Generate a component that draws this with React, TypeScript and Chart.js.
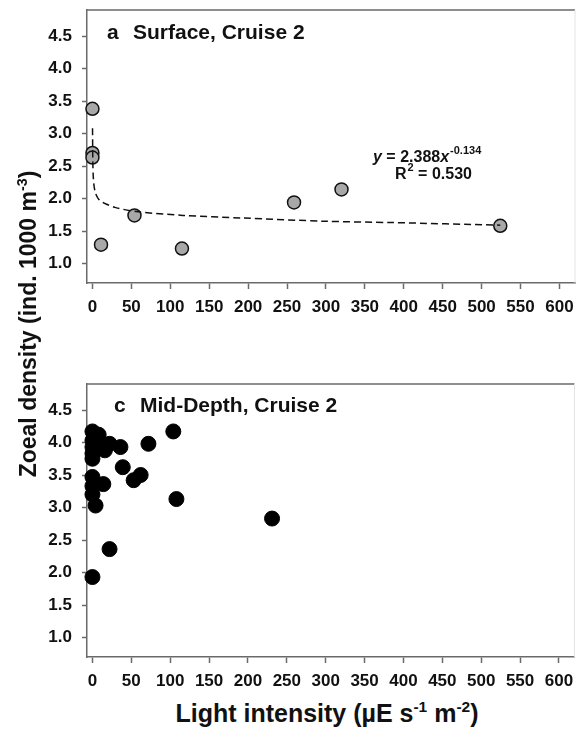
import React, { useEffect, useRef } from "react";
import { Chart, registerables } from "chart.js";

Chart.register(...registerables);

const FONT = '"Liberation Sans", Arial, Helvetica, sans-serif';

// Panel a: Surface, Cruise 2
const surfaceLight = [0, 0, 0, 11, 54, 115, 259, 320, 524];
const surfaceDensity = [3.38, 2.70, 2.63, 1.29, 1.74, 1.23, 1.94, 2.14, 1.58];

// fitted power curve as drawn
const fitLight = [0.1, 0.5, 1, 2, 4, 8, 15, 30, 56, 116, 192, 299, 384, 524];
const fitDensity = [3.08, 2.55, 2.35, 2.2, 2.08, 1.99, 1.93, 1.86, 1.8, 1.74, 1.7, 1.65, 1.63, 1.59];

// Panel c: Mid-Depth, Cruise 2
const midLight = [0, 0, 0, 0, 0, 8, 3, 16, 22, 36, 72, 104, 39, 53, 62, 0, 14, 0, 0, 4, 108, 22, 0, 231];
const midDensity = [4.17, 4.03, 3.93, 3.83, 3.75, 4.12, 4.0, 3.88, 3.98, 3.93, 3.98, 4.17, 3.62, 3.42, 3.5, 3.47, 3.36, 3.33, 3.2, 3.03, 3.13, 2.36, 1.93, 2.83];

const xTicks = [0, 50, 100, 150, 200, 250, 300, 350, 400, 450, 500, 550, 600];
const yTicks = [1.0, 1.5, 2.0, 2.5, 3.0, 3.5, 4.0, 4.5];

const equationText = { y: "y", eq: " = 2.388", x: "x", exp: "-0.134", r: "R", rexp: "2", rval: " = 0.530" };

const CANVAS_W = 583;
const CANVAS_H = 320;

function toPoints(xs: number[], ys: number[]) {
  return xs.map((x, i) => ({ x, y: ys[i] }));
}

function makePanelPlugin(letter: string, title: string, letterX: number, titleX: number, baseY: number, withEquation: boolean) {
  return {
    id: "panelDeco",
    afterDraw(chart: any) {
      const ctx = chart.ctx as CanvasRenderingContext2D;
      const { top, left, right, bottom } = chart.chartArea;
      ctx.save();
      ctx.strokeStyle = "#6a6a6a";
      ctx.lineWidth = 1.5;
      ctx.beginPath();
      ctx.moveTo(left, top);
      ctx.lineTo(right, top);
      ctx.stroke();
      ctx.strokeStyle = "#e4e4e4";
      ctx.lineWidth = 1;
      ctx.beginPath();
      ctx.moveTo(right, top);
      ctx.lineTo(right, bottom);
      ctx.stroke();

      ctx.fillStyle = "#111";
      ctx.textBaseline = "alphabetic";
      ctx.textAlign = "left";
      ctx.font = `bold 21px ${FONT}`;
      ctx.fillText(letter, letterX, baseY);
      ctx.fillText(title, titleX, baseY);

      if (withEquation) {
        let x = 373;
        const b1 = 161.5;
        ctx.font = `italic bold 16px ${FONT}`;
        ctx.fillText(equationText.y, x, b1);
        x += ctx.measureText(equationText.y).width;
        ctx.font = `bold 16px ${FONT}`;
        ctx.fillText(equationText.eq, x, b1);
        x += ctx.measureText(equationText.eq).width;
        ctx.font = `italic bold 16px ${FONT}`;
        ctx.fillText(equationText.x, x, b1);
        x += ctx.measureText(equationText.x).width + 1;
        ctx.font = `bold 11px ${FONT}`;
        ctx.fillText(equationText.exp, x, b1 - 8);

        let x2 = 395;
        const b2 = 178.5;
        ctx.font = `bold 16px ${FONT}`;
        ctx.fillText(equationText.r, x2, b2);
        x2 += ctx.measureText(equationText.r).width + 1;
        ctx.font = `bold 11px ${FONT}`;
        ctx.fillText(equationText.rexp, x2, b2 - 8);
        x2 += ctx.measureText(equationText.rexp).width;
        ctx.font = `bold 16px ${FONT}`;
        ctx.fillText(equationText.rval, x2, b2);
      }
      ctx.restore();
    },
  };
}

function makeScales() {
  return {
    x: {
      type: "linear" as const,
      min: -7,
      max: 620,
      afterBuildTicks(scale: any) {
        scale.ticks = xTicks.map((v) => ({ value: v }));
      },
      afterFit(scale: any) {
        scale.height = 37;
        scale.paddingLeft = 0;
        scale.paddingRight = 0;
      },
      border: { display: true, color: "#6a6a6a", width: 1.5 },
      grid: {
        drawOnChartArea: false,
        drawTicks: true,
        tickLength: 6,
        tickWidth: 1.5,
        tickColor: "#6a6a6a",
      },
      ticks: {
        color: "#111",
        padding: 8,
        maxRotation: 0,
        autoSkip: false,
        font: { family: FONT, size: 17, weight: "bold" as const },
        callback: (v: any) => String(v),
      },
    },
    y: {
      type: "linear" as const,
      min: 0.7,
      max: 4.9,
      afterBuildTicks(scale: any) {
        scale.ticks = yTicks.map((v) => ({ value: v }));
      },
      afterFit(scale: any) {
        scale.width = 87;
        scale.paddingTop = 0;
        scale.paddingBottom = 0;
      },
      border: { display: true, color: "#6a6a6a", width: 1.5 },
      grid: {
        drawOnChartArea: false,
        drawTicks: true,
        tickLength: 5,
        tickWidth: 1.5,
        tickColor: "#6a6a6a",
      },
      ticks: {
        color: "#111",
        padding: 10,
        autoSkip: false,
        font: { family: FONT, size: 17, weight: "bold" as const },
        callback: (v: any) => Number(v).toFixed(1),
      },
    },
  };
}

function baseOptions() {
  return {
    responsive: false,
    animation: false as const,
    devicePixelRatio: 1,
    layout: { padding: { left: 0, right: 0, top: 10, bottom: 0 } },
    plugins: { legend: { display: false }, tooltip: { enabled: false }, title: { display: false } },
    scales: makeScales(),
  };
}

export default function App() {
  const topRef = useRef<HTMLCanvasElement | null>(null);
  const botRef = useRef<HTMLCanvasElement | null>(null);

  useEffect(() => {
    Chart.defaults.font.family = FONT;
    const c1 = new Chart(topRef.current as HTMLCanvasElement, {
      type: "scatter",
      data: {
        datasets: [
          {
            label: "fit",
            data: toPoints(fitLight, fitDensity),
            showLine: true,
            borderColor: "#111",
            borderWidth: 1.5,
            borderDash: [7, 4],
            pointRadius: 0,
            tension: 0.3,
            clip: false as any,
          },
          {
            label: "Surface",
            data: toPoints(surfaceLight, surfaceDensity),
            backgroundColor: "#a8a8a8",
            borderColor: "#111",
            borderWidth: 1.5,
            pointRadius: 6.5,
            clip: false as any,
          },
        ],
      },
      options: baseOptions() as any,
      plugins: [makePanelPlugin("a", "Surface, Cruise 2", 107, 133, 39, true)],
    });
    const c2 = new Chart(botRef.current as HTMLCanvasElement, {
      type: "scatter",
      data: {
        datasets: [
          {
            label: "Mid-Depth",
            data: toPoints(midLight, midDensity),
            backgroundColor: "#000",
            borderColor: "#000",
            borderWidth: 1,
            pointRadius: 7.5,
            clip: false as any,
          },
        ],
      },
      options: baseOptions() as any,
      plugins: [makePanelPlugin("c", "Mid-Depth, Cruise 2", 114, 140, 38, false)],
    });
    return () => {
      c1.destroy();
      c2.destroy();
    };
  }, []);

  const supStyle: React.CSSProperties = {
    fontSize: "0.62em",
    verticalAlign: "baseline",
    position: "relative",
    top: "-0.62em",
    lineHeight: 0,
  };

  return (
    <div
      style={{
        position: "absolute",
        left: 0,
        top: 0,
        width: 580,
        height: 729,
        background: "#fff",
        overflow: "hidden",
        fontFamily: FONT,
        color: "#111",
      }}
    >
      <canvas ref={topRef} width={CANVAS_W} height={CANVAS_H} style={{ position: "absolute", left: 0, top: 0, width: CANVAS_W, height: CANVAS_H }} />
      <canvas ref={botRef} width={CANVAS_W} height={CANVAS_H} style={{ position: "absolute", left: 0, top: 374, width: CANVAS_W, height: CANVAS_H }} />
      <div
        style={{
          position: "absolute",
          left: 28 - 200,
          top: 324 - 13,
          width: 400,
          height: 26,
          lineHeight: "26px",
          textAlign: "center",
          fontSize: 23,
          fontWeight: "bold",
          transform: "rotate(-90deg)",
          whiteSpace: "nowrap",
        }}
      >
        Zoeal density (ind. 1000 m<span style={supStyle}>-3</span>)
      </div>
      <div
        style={{
          position: "absolute",
          left: 327 - 200,
          top: 713 - 13,
          width: 400,
          height: 26,
          lineHeight: "26px",
          textAlign: "center",
          fontSize: 25,
          fontWeight: "bold",
          whiteSpace: "nowrap",
        }}
      >
        Light intensity (µE s<span style={supStyle}>-1</span> m<span style={supStyle}>-2</span>)
      </div>
    </div>
  );
}
